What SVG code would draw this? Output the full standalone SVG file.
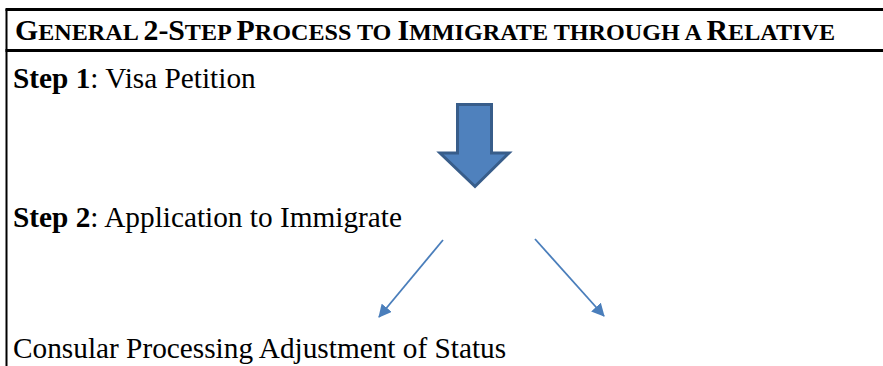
<svg xmlns="http://www.w3.org/2000/svg" width="883" height="366" viewBox="0 0 883 366">
<style>
.t{font-family:"Liberation Serif","Times New Roman",serif;font-size:29.3px;fill:#000}
.b{font-weight:bold}
.h{font-family:"Liberation Serif","Times New Roman",serif;font-weight:bold;fill:#000}
.big{font-size:29px}
.sm{font-size:23.5px}
.rule{stroke:#000;fill:none}
.conn{stroke:#4A7EBB;stroke-width:1.8;fill:none}
</style>
<defs>
<marker id="ah" markerWidth="13" markerHeight="13" refX="12" refY="6.5" orient="auto" markerUnits="userSpaceOnUse" viewBox="0 0 13 13">
<path d="M0,0 L13,6.5 L0,13 Z" fill="#4A7EBB"/>
</marker>
</defs>
<g id="frame">
<line class="rule" x1="6.5" y1="9" x2="6.5" y2="366" stroke-width="2"/>
<line class="rule" x1="5.5" y1="9.5" x2="883" y2="9.5" stroke-width="3"/>
<line class="rule" x1="5.5" y1="50.5" x2="883" y2="50.5" stroke-width="3"/>
</g>
<g id="title">
<text class="h" x="15" y="40" textLength="820" lengthAdjust="spacingAndGlyphs"><tspan class="big">G</tspan><tspan class="sm">ENERAL </tspan><tspan class="big">2-S</tspan><tspan class="sm">TEP </tspan><tspan class="big">P</tspan><tspan class="sm">ROCESS TO </tspan><tspan class="big">I</tspan><tspan class="sm">MMIGRATE THROUGH A </tspan><tspan class="big">R</tspan><tspan class="sm">ELATIVE</tspan></text>
</g>
<g id="step1">
<text class="t" x="13" y="88"><tspan class="b">Step 1</tspan>: Visa Petition</text>
</g>
<g id="big-arrow">
<path d="M457.5,104.5 H491.5 V153 H509 L475,186.5 L440,153 H457.5 Z" fill="#4F81BD" stroke="#385D8A" stroke-width="3" stroke-linejoin="miter"/>
</g>
<g id="step2">
<text class="t" x="13" y="227"><tspan class="b">Step 2</tspan>: Application to Immigrate</text>
</g>
<g id="outcomes">
<text class="t" x="13" y="358">Consular Processing Adjustment of Status</text>
</g>
<g id="connectors">
<line class="conn" x1="443" y1="240" x2="379" y2="317" marker-end="url(#ah)"/>
<line class="conn" x1="535" y1="239" x2="604" y2="316" marker-end="url(#ah)"/>
</g>
</svg>
